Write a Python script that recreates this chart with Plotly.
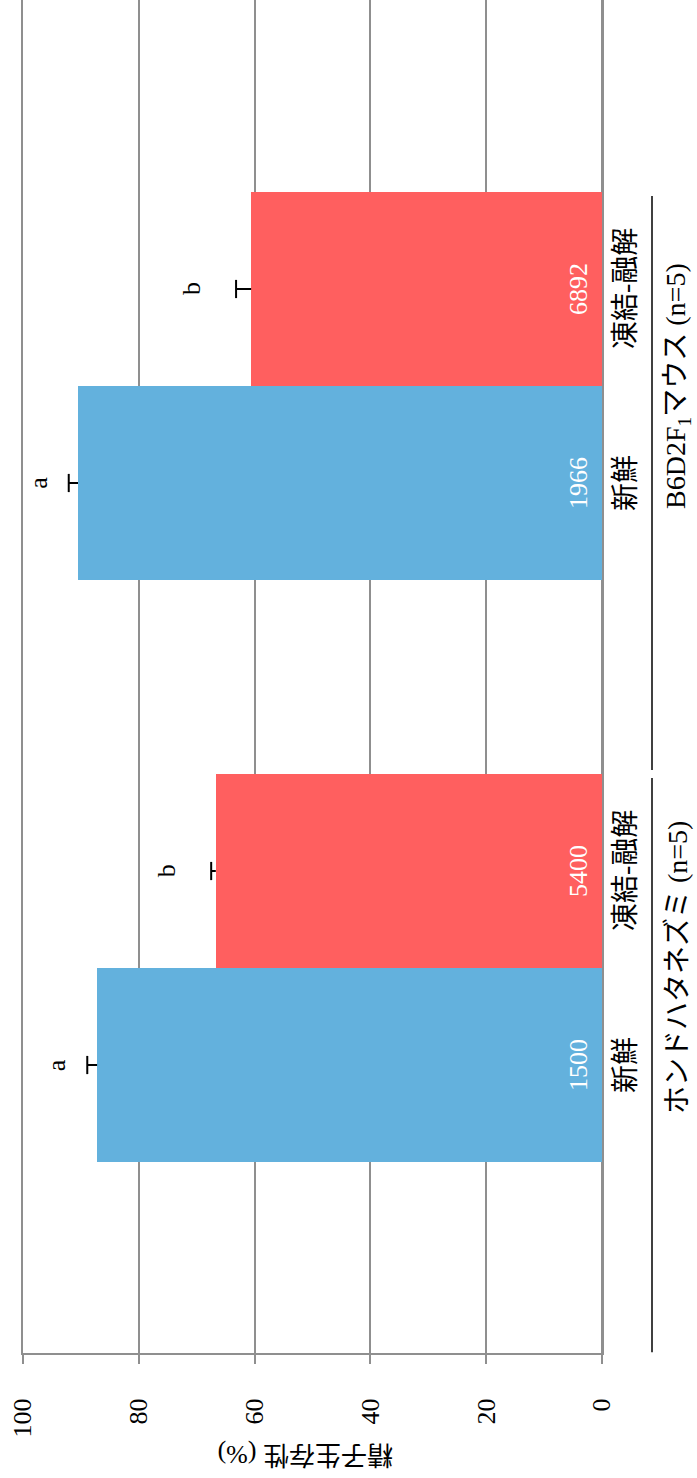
import plotly.graph_objects as go

# Sperm survival (%) for fresh vs. frozen-thawed sperm, two species
groups = ["ホンドハタネズミ (n=5)", "B6D2F<sub>1</sub>マウス (n=5)"]
treatments = ["新鮮", "凍結-融解"]
survival = [87.2, 66.7, 90.5, 60.6]      # mean survival per bar
errors = [1.7, 0.8, 1.6, 2.6]            # upper error
letters = ["a", "b", "a", "b"]           # significance letters
counts = ["1500", "5400", "1966", "6892"]  # counts shown inside bars
tick_vals = [0, 20, 40, 60, 80, 100]

# bar slots along the category axis (gap slot between the two groups)
positions = [0, 1, 3, 4]
group_centers = [0.5, 3.5]

BLUE = "#63b1dd"
RED = "#ff5f5f"
GRID = "#8f8f8f"
SERIF = "Liberation Serif, 'Times New Roman', 'Noto Sans CJK JP', serif"
FS = 26       # numbers and letters
FS_CAT = 28   # category / group labels
W, H = 697, 1478

colors = [BLUE if i % 2 == 0 else RED for i in range(len(survival))]

fig = go.Figure()
fig.add_trace(go.Bar(
    orientation="h",
    y=positions,
    x=survival,
    width=1,
    marker=dict(color=colors, line=dict(width=0)),
    hoverinfo="skip",
))

# one-sided error bars: stem from the bar end, cap at the upper value
tops = [v + e for v, e in zip(survival, errors)]
stem_x, stem_y = [], []
for p, v, t in zip(positions, survival, tops):
    stem_x += [v, t, None]
    stem_y += [p, p, None]
fig.add_trace(go.Scatter(x=stem_x, y=stem_y, mode="lines",
                         line=dict(color="black", width=2),
                         hoverinfo="skip"))
fig.add_trace(go.Scatter(x=tops, y=positions, mode="markers",
                         marker=dict(symbol="line-ns", size=13,
                                     line=dict(color="black", width=2)),
                         hoverinfo="skip"))

annotations = []
letter_shift = {"a": -31, "b": -45}
for i, (p, t, lt, c) in enumerate(zip(positions, tops, letters, counts)):
    # significance letter beyond the error bar
    annotations.append(dict(x=t, y=p, xref="x", yref="y", text=lt,
                            showarrow=False, textangle=-90, xanchor="center",
                            yanchor="middle", xshift=letter_shift[lt],
                            font=dict(family=SERIF, size=FS, color="black")))
    # count label at the base of the bar
    annotations.append(dict(x=0, y=p, xref="x", yref="y", text=c,
                            showarrow=False, textangle=-90, xanchor="center",
                            yanchor="middle", xshift=-24,
                            font=dict(family=SERIF, size=FS, color="white")))
    # treatment label
    annotations.append(dict(x=625 / W, y=p, xref="paper", yref="y",
                            text=treatments[i % 2],
                            showarrow=False, textangle=-90, xanchor="center",
                            yanchor="middle",
                            font=dict(family=SERIF, size=FS_CAT, color="black")))

shapes = []
for g, gc in zip(groups, group_centers):
    annotations.append(dict(x=677 / W, y=gc, xref="paper", yref="y", text=g,
                            showarrow=False, textangle=-90, xanchor="center",
                            yanchor="middle",
                            font=dict(family=SERIF, size=FS_CAT, color="black")))
    shapes.append(dict(type="line", xref="paper", yref="y",
                       x0=652 / W, x1=652 / W, y0=gc - 1.98, y1=gc + 0.98,
                       line=dict(color="black", width=1.5)))

# axis title
annotations.append(dict(x=306 / W, y=(H - 1455) / H, xref="paper", yref="paper",
                        text="精子生存性 (%)", showarrow=False, textangle=180,
                        xanchor="center", yanchor="middle",
                        font=dict(family=SERIF, size=FS, color="black")))

fig.update_layout(
    width=W, height=H,
    margin=dict(l=0, r=0, t=0, b=0, autoexpand=False),
    paper_bgcolor="white", plot_bgcolor="white",
    showlegend=False,
    bargap=0,
    xaxis=dict(
        domain=[23 / W, 602 / W],
        range=[100, 0],
        tickvals=tick_vals,
        tickangle=-90,
        tickfont=dict(family=SERIF, size=FS, color="black"),
        showgrid=True, gridcolor=GRID, gridwidth=2,
        zeroline=True, zerolinecolor=GRID, zerolinewidth=2,
        showline=True, linecolor=GRID, linewidth=2,
        ticks="outside", ticklen=9, tickwidth=2, tickcolor=GRID,
        ticklabelstandoff=24,
        automargin=False,
    ),
    yaxis=dict(
        domain=[125 / H, 1],
        range=[-1.4845, 5.4897],
        showgrid=False, zeroline=False, showticklabels=False,
        showline=True, mirror=True, linecolor=GRID, linewidth=2,
        ticks="", automargin=False,
    ),
    annotations=annotations,
    shapes=shapes,
)

fig.write_html("out.html")
